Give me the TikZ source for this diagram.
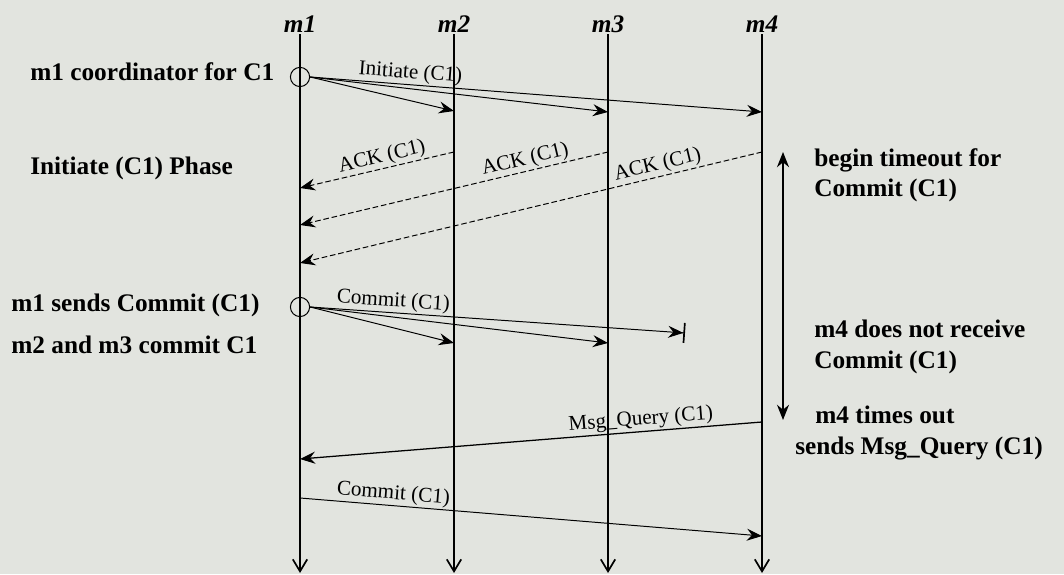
\documentclass[tikz,border=0pt]{standalone}
\usepackage{fontspec}
\setmainfont{Liberation Serif}
\usetikzlibrary{arrows.meta,positioning}
\definecolor{paper}{RGB}{226,228,223}

\begin{document}
\begin{tikzpicture}[
    x=0.025cm, y=-0.025cm,
    proc/.style={font=\fontsize{18}{20}\selectfont\bfseries\itshape, inner sep=1pt},
    note/.style={font=\fontsize{18}{21.5}\selectfont\bfseries, align=left,
                 anchor=west, inner sep=0pt},
    life/.style={line width=1.2pt, -{Straight Barb[length=3mm,width=3.6mm,line width=1.2pt]}},
    msg/.style={line width=0.7pt, -{Stealth[length=3.8mm,width=3mm,inset=1.3mm]}},
    ack/.style={msg, dash pattern=on 4pt off 2pt},
    lost/.style={line width=0.7pt,
                 -{Stealth[length=3.8mm,width=3mm,inset=1.3mm] Bar[width=5mm,line width=1.2pt]}},
    span/.style={line width=1.2pt, {Stealth[length=3.8mm,width=3mm]}-{Stealth[length=3.8mm,width=3mm]}},
    tag/.style={font=\fontsize{15}{15}\selectfont, sloped, above, inner sep=1pt},
    sendpt/.style={draw, circle, minimum size=0.48cm, inner sep=0pt, line width=0.7pt}
]
    \fill[paper] (0,0) rectangle (1064,574);

    \node[proc] (m1) at (300,24) {m1};
    \node[proc] (m2) at (454,24) {m2};
    \node[proc] (m3) at (608,24) {m3};
    \node[proc] (m4) at (762,24) {m4};
    \coordinate (e1) at (300,573);
    \coordinate (e2) at (454,573);
    \coordinate (e3) at (608,573);
    \coordinate (e4) at (762,573);
    \draw[life] (m1) -- (e1);
    \draw[life] (m2) -- (e2);
    \draw[life] (m3) -- (e3);
    \draw[life] (m4) -- (e4);

    \node[sendpt] (s1) at (300,77)  {};
    \node[sendpt] (s2) at (300,307) {};

    \coordinate (i2) at (454,111);
    \coordinate (i3) at (608,112);
    \coordinate (i4) at (762,112);
    \draw[msg] (s1.east) -- (i2);
    \draw[msg] (s1.east) -- (i3);
    \draw[msg] (s1.east) -- node[tag, pos=0.22] {Initiate (C1)} (i4);

    \coordinate (k2) at (454,152);
    \coordinate (k3) at (608,152);
    \coordinate (k4) at (762,152);
    \coordinate (r2) at (300,188);
    \coordinate (r3) at (300,225);
    \coordinate (r4) at (300,263);
    \draw[ack] (k2) -- node[tag, pos=0.45] {ACK (C1)} (r2);
    \draw[ack] (k3) -- node[tag, pos=0.26] {ACK (C1)} (r3);
    \draw[ack] (k4) -- node[tag, pos=0.22] {ACK (C1)} (r4);

    \coordinate (c2) at (454,343);
    \coordinate (c3) at (608,343);
    \coordinate (cx) at (685,333);
    \draw[msg]  (s2.east) -- (c2);
    \draw[msg]  (s2.east) -- (c3);
    \draw[lost] (s2.east) -- node[tag, pos=0.22] {Commit (C1)} (cx);

    \coordinate (t1) at (783,152);
    \coordinate (t2) at (783,420);
    \draw[span] (t1) -- (t2);

    \coordinate (q4) at (762,422);
    \coordinate (q1) at (300,459);
    \draw[msg, line width=0.9pt] (q4) -- node[tag, pos=0.26] {Msg\_Query (C1)} (q1);

    \coordinate (f1) at (300,498);
    \coordinate (f4) at (762,536);
    \draw[msg] (f1) -- node[tag, pos=0.2] {Commit (C1)} (f4);

    \node[note] (n1) at (30,72)  {m1 coordinator for C1};
    \node[note] (n2) at (30,168) {Initiate (C1) Phase};
    \node[note] (n3) at (11,305) {m1 sends Commit (C1)};
    \node[note] (n4) at (11,345) {m2 and m3 commit C1};
    \node[note] (n5) at (814,175) {begin timeout for\\Commit (C1)};
    \node[note] (n6) at (814,347) {m4 does not receive\\Commit (C1)};
    \node[note] (n7) at (795,433) {\hspace*{0.5cm}m4 times out\\sends Msg\_Query (C1)};
\end{tikzpicture}
\end{document}
